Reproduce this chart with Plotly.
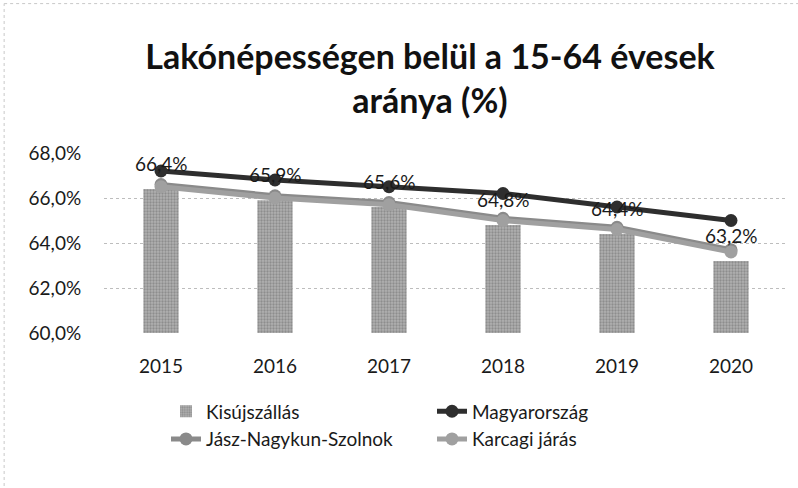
import plotly.graph_objects as go

years = [2015, 2016, 2017, 2018, 2019, 2020]
kisujszallas = [66.4, 65.9, 65.6, 64.8, 64.4, 63.2]
magyarorszag = [67.2, 66.8, 66.5, 66.2, 65.6, 65.0]
jasz_nagykun_szolnok = [66.6, 66.1, 65.8, 65.1, 64.7, 63.7]
karcagi_jaras = [66.5, 66.0, 65.7, 65.0, 64.6, 63.6]
y_ticks = [60, 62, 64, 66, 68]

FONT = "Lato"
TXT = "#1a1a1a"

def hu_pct(v):
    return f"{v:.1f}".replace(".", ",") + "%"

fig = go.Figure()

fig.add_trace(go.Bar(
    x=years, y=kisujszallas, name="Kisújszállás",
    width=0.31,
    marker=dict(
        color="#a4a4a4",
        line=dict(width=0),
        pattern=dict(shape=".", fgcolor="#6a6a6a", bgcolor="#b0b0b0", size=3, solidity=0.45),
    ),
))

line_specs = [
    ("Magyarország", magyarorszag, "#2e2e2e"),
    ("Jász-Nagykun-Szolnok", jasz_nagykun_szolnok, "#8a8a8a"),
    ("Karcagi járás", karcagi_jaras, "#a0a0a0"),
]
for name, vals, col in line_specs:
    fig.add_trace(go.Scatter(
        x=years, y=vals, name=name, mode="lines+markers",
        line=dict(color=col, width=5),
        marker=dict(color=col, size=13, symbol="circle"),
    ))

# value labels above the Kisújszállás bars
for yr, v in zip(years, kisujszallas):
    fig.add_annotation(
        x=yr, y=v, xref="x", yref="y", text=hu_pct(v), showarrow=False,
        yshift=26, font=dict(family=FONT, size=19, color=TXT),
    )

# light dotted chart-area frame
fig.add_shape(type="line", xref="paper", yref="paper",
              x0=-0.146, x1=-0.146, y0=-0.85, y1=1.83,
              line=dict(color="#c8c8c8", width=1, dash="dot"))
fig.add_shape(type="line", xref="paper", yref="paper",
              x0=-0.146, x1=1.02, y0=1.83, y1=1.83,
              line=dict(color="#c8c8c8", width=1, dash="dot"))

fig.update_layout(
    width=798, height=488,
    margin=dict(l=104, r=10, t=153, b=155),
    paper_bgcolor="white", plot_bgcolor="white",
    font=dict(family=FONT, size=19, color=TXT),
    title=dict(
        text="<b>Lakónépességen belül a 15-64 évesek<br>aránya (%)</b>",
        x=430 / 798, xanchor="center", xref="container",
        y=1 - 69 / 488, yanchor="top", yref="container",
        font=dict(family=FONT, size=34, color="#111111"),
    ),
    showlegend=True,
    legend=dict(
        orientation="h",
        x=(166 - 104) / 684, xanchor="left",
        y=-0.33, yanchor="top",
        entrywidth=221,
        font=dict(family=FONT, size=19, color=TXT),
        bgcolor="rgba(0,0,0,0)",
    ),
)

fig.update_xaxes(
    range=[2014.5, 2020.5], tickvals=years, ticktext=[str(y) for y in years],
    showgrid=False, showline=False, zeroline=False,
    ticks="outside", ticklen=16, tickcolor="white",
    tickfont=dict(family=FONT, size=19, color=TXT),
)
fig.update_yaxes(
    range=[60, 68], tickvals=y_ticks,
    ticktext=[hu_pct(t) for t in y_ticks],
    showgrid=True, gridcolor="#bdbdbd", griddash="dot", gridwidth=1,
    zeroline=False, showline=False,
    ticks="outside", ticklen=18, tickcolor="white",
    tickfont=dict(family=FONT, size=19, color=TXT),
)

fig.write_html("out.html")
